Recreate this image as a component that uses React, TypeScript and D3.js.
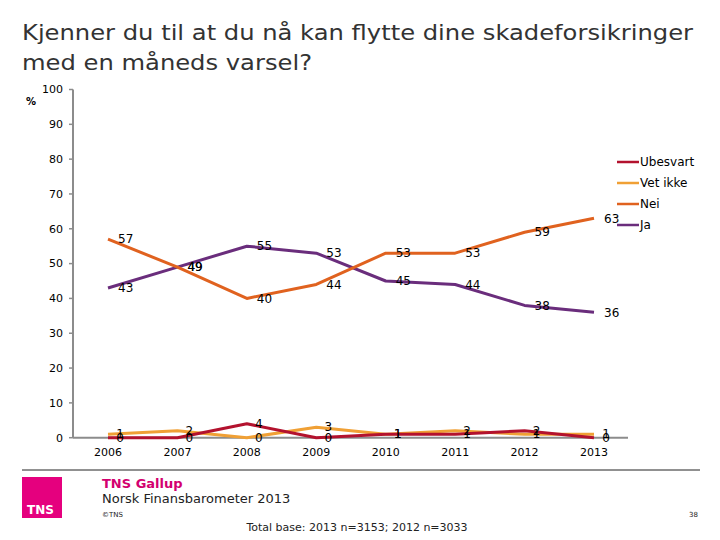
import React from "react";
import * as d3 from "d3";

const years = ["2006", "2007", "2008", "2009", "2010", "2011", "2012", "2013"];
const ja = [43, 49, 55, 53, 45, 44, 38, 36];
const nei = [57, 49, 40, 44, 53, 53, 59, 63];
const vetIkke = [1, 2, 0, 3, 1, 2, 1, 1];
const ubesvart = [0, 0, 4, 0, 1, 1, 2, 0];
const yTicks = [0, 10, 20, 30, 40, 50, 60, 70, 80, 90, 100];

const series = [
  { name: "Ubesvart", values: ubesvart, color: "#B3122E" },
  { name: "Vet ikke", values: vetIkke, color: "#F0A035" },
  { name: "Nei", values: nei, color: "#E0621F" },
  { name: "Ja", values: ja, color: "#6A2D7C" },
];

const FONT = "'DejaVu Sans', Verdana, sans-serif";

export default function App() {
  const x = d3.scalePoint<string>().domain(years).range([108, 594]);
  const y = d3.scaleLinear().domain([0, 100]).range([437.7, 89.5]);
  const line = d3
    .line<number>()
    .x((_, i) => x(years[i]) as number)
    .y((d) => y(d));

  const drawOrder = [series[3], series[2], series[1], series[0]];

  return (
    <svg width={720} height={540} style={{ position: "absolute", left: 0, top: 0, background: "#fff" }}>
      <rect width={720} height={540} fill="#fff" />
      <text x={22} y={40} fontFamily={FONT} fontSize={22} fill="#333" textLength={671} lengthAdjust="spacingAndGlyphs">
        Kjenner du til at du nå kan flytte dine skadeforsikringer
      </text>
      <text x={22} y={70} fontFamily={FONT} fontSize={22} fill="#333" textLength={290} lengthAdjust="spacingAndGlyphs">
        med en måneds varsel?
      </text>
      <text x={26} y={105} fontFamily={FONT} fontSize={10} fontWeight="bold" fill="#000">%</text>

      {/* y axis */}
      <line x1={73} x2={73} y1={y(100)} y2={y(0)} stroke="#8c8c8c" strokeWidth={2} />
      {yTicks.map((t) => (
        <g key={t}>
          <line x1={69} x2={73} y1={y(t)} y2={y(t)} stroke="#8c8c8c" strokeWidth={1.5} />
          <text x={63} y={y(t)} dy="0.35em" textAnchor="end" fontFamily={FONT} fontSize={11} fill="#000">
            {t}
          </text>
        </g>
      ))}
      {/* x axis */}
      <line x1={73} x2={628} y1={y(0)} y2={y(0)} stroke="#8c8c8c" strokeWidth={2} />
      {years.map((yr) => (
        <text key={yr} x={x(yr)} y={456} textAnchor="middle" fontFamily={FONT} fontSize={11} fill="#000">
          {yr}
        </text>
      ))}

      {drawOrder.map((s) => (
        <path key={s.name} d={line(s.values) || ""} fill="none" stroke={s.color} strokeWidth={3} strokeLinejoin="round" />
      ))}

      {drawOrder.map((s) =>
        s.values.map((v, i) => (
          <text
            key={s.name + i}
            x={(x(years[i]) as number) + (v < 10 ? 12 : 10)}
            y={y(v)}
            dy="0.35em"
            textAnchor={v < 10 ? "middle" : "start"}
            fontFamily={FONT}
            fontSize={12}
            fill="#000"
          >
            {v}
          </text>
        ))
      )}

      {/* legend */}
      {series.map((s, i) => (
        <g key={s.name} transform={`translate(617, ${162 + i * 21})`}>
          <line x1={0} x2={22} y1={0} y2={0} stroke={s.color} strokeWidth={2.5} />
          <text x={23} y={0} dy="0.35em" fontFamily={FONT} fontSize={12} fill="#000">
            {s.name}
          </text>
        </g>
      ))}

      {/* footer */}
      <line x1={22} x2={700} y1={470} y2={470} stroke="#222" strokeWidth={1} />
      <rect x={22} y={477} width={40} height={41} fill="#E5007E" />
      <text x={27} y={514} fontFamily={FONT} fontSize={12} fontWeight="bold" fill="#fff">TNS</text>
      <text x={102} y={488} fontFamily={FONT} fontSize={13} fontWeight="bold" fill="#D3006F">TNS Gallup</text>
      <text x={102} y={503} fontFamily={FONT} fontSize={13} fill="#222">Norsk Finansbarometer 2013</text>
      <text x={102} y={517} fontFamily={FONT} fontSize={7} fill="#222">©TNS</text>
      <text x={698} y={517} textAnchor="end" fontFamily={FONT} fontSize={7} fill="#222">38</text>
      <text x={357} y={531} textAnchor="middle" fontFamily={FONT} fontSize={11} fill="#222">
        Total base: 2013 n=3153; 2012 n=3033
      </text>
    </svg>
  );
}
